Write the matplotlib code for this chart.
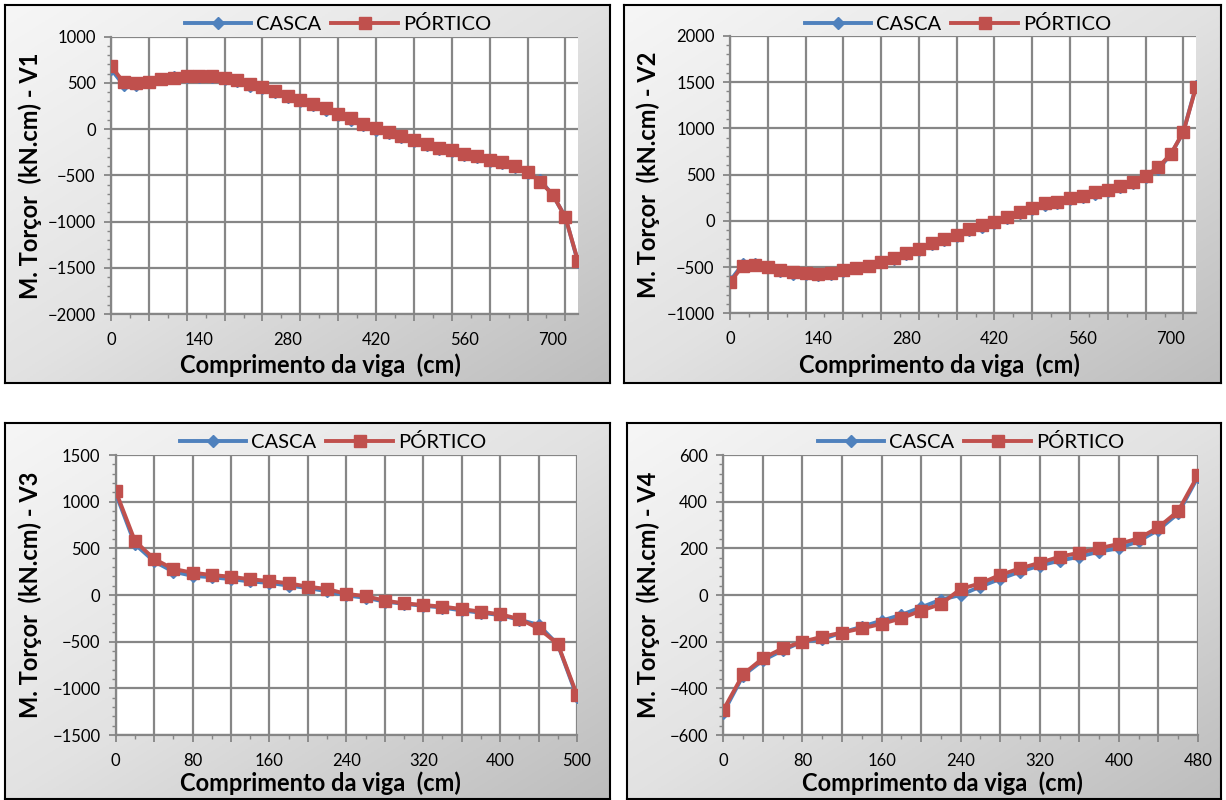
import numpy as np
import matplotlib.pyplot as plt
from matplotlib.colors import LinearSegmentedColormap
from matplotlib.ticker import MultipleLocator, NullFormatter

plt.rcParams['font.family'] = ['Lato', 'DejaVu Sans']

# category labels (cm) and torsion moments (kN.cm)
x_v1 = list(range(0, 760, 20))
casca_v1 = [650, 477, 478, 505, 545, 560, 562, 565, 562, 540, 520, 472, 447, 402, 348, 302, 258, 212, 150, 103,
            45, -4, -40, -84, -128, -175, -210, -238, -278, -300, -343, -365, -410, -470, -552, -712, -950, -1440]
portico_v1 = [683, 507, 496, 513, 539, 550, 575, 575, 578, 550, 531, 488, 459, 416, 362, 315, 272, 225, 163, 117,
              55, 9, -28, -74, -118, -165, -201, -226, -269, -291, -334, -356, -399, -460, -569, -709, -954, -1427]

x_v2 = list(range(0, 760, 20))
casca_v2 = [-650, -470, -470, -500, -540, -570, -580, -582, -575, -545, -515, -490, -440, -410, -360, -312, -255, -212,
            -162, -100, -62, -25, 35, 85, 125, 175, 198, 234, 262, 295, 323, 365, 405, 476, 560, 718, 962, 1460]
portico_v2 = [-665, -488, -480, -502, -532, -557, -567, -578, -561, -532, -507, -485, -442, -399, -351, -308, -243,
              -200, -153, -91, -50, -16, 45, 99, 136, 190, 207, 244, 272, 309, 334, 377, 417, 489, 579, 723, 965, 1445]

x_v3 = list(range(0, 420, 20)) + [425, 450, 475, 500]
casca_v3 = [1090, 545, 360, 250, 205, 190, 170, 145, 130, 100, 75, 40, -5, -30, -70, -95, -115, -135, -165, -190,
            -215, -265, -320, -530, -1090]
portico_v3 = [1114, 579, 386, 279, 239, 214, 196, 168, 150, 125, 89, 64, 11, -11, -61, -89, -107, -125, -150, -179,
              -207, -257, -357, -525, -1071]

x_v4 = list(range(0, 500, 20))
casca_v4 = [-505, -345, -280, -237, -200, -190, -161, -136, -110, -85, -53, -20, 0, 36, 69, 100, 126, 147, 164, 186,
            200, 231, 279, 350, 507]
portico_v4 = [-493, -340, -271, -229, -200, -179, -161, -143, -124, -100, -67, -39, 26, 50, 86, 114, 138, 164, 181,
              200, 219, 243, 290, 360, 514]

W, H = 1226, 800
fig = plt.figure(figsize=(12.26, 8), dpi=100)


def box(l, t, r, b):
    return [l / W, 1 - b / H, (r - l) / W, (b - t) / H]


grad = np.add.outer(np.linspace(0, 1, 200), np.linspace(0, 1, 200)) / 2
bgmap = LinearSegmentedColormap.from_list('bg', ['#f6f6f6', '#e2e2e2', '#bdbdbd'])


def panel(frame, area, cats, casca, portico, ylim, ystep, gstep, lstep, name, xlab_pos, ylab_x, leg_pos):
    bg = fig.add_axes(box(*frame), zorder=0)
    bg.imshow(grad, cmap=bgmap, extent=[0, 1, 0, 1], aspect='auto', origin='upper')
    bg.set_xticks([])
    bg.set_yticks([])
    for s in bg.spines.values():
        s.set_color('black')
        s.set_linewidth(1.5)

    ax = fig.add_axes(box(*area), zorder=1)
    ax.set_facecolor('white')
    pos = np.arange(len(cats))
    ax.plot(pos, casca, color='#4F81BD', lw=2.8, marker='D', ms=6.5, label='CASCA', zorder=3)
    ax.plot(pos, portico, color='#C0504D', lw=2.8, marker='s', ms=8.5, label='PÓRTICO', zorder=4)
    ax.set_xlim(0, len(cats) - 1)
    ax.set_ylim(*ylim)
    ax.yaxis.set_major_locator(MultipleLocator(ystep))
    ax.yaxis.set_minor_locator(MultipleLocator(ystep / 5))
    ax.xaxis.set_major_locator(MultipleLocator(gstep))
    ax.xaxis.set_minor_locator(MultipleLocator(gstep / 2))
    ax.xaxis.set_major_formatter(NullFormatter())
    ax.grid(True, which='major', color='#868686', lw=1.6)
    ax.set_axisbelow(True)
    for s in ax.spines.values():
        s.set_color('#868686')
        s.set_linewidth(1.6)
    ax.spines['top'].set_visible(False)
    ax.spines['right'].set_visible(False)
    ax.tick_params(which='major', color='#868686', length=5, width=1.3, labelsize=12, pad=6)
    ax.tick_params(which='minor', color='#868686', length=3, width=1.0)

    # category labels below the axis, as in a spreadsheet line chart
    ytxt = 1 - (area[3] + 26) / H
    for i in range(0, len(cats), lstep):
        xf = ax.transData.transform((i, 0))[0] / fig.dpi / fig.get_figwidth()
        fig.text(xf, ytxt, str(cats[i]), ha='center', va='center', fontsize=12)
    fig.text(xlab_pos[0] / W, 1 - xlab_pos[1] / H, 'Comprimento da viga  (cm)', ha='center', va='center',
             fontsize=17, fontweight='bold')
    fig.text(ylab_x / W, 1 - (area[1] + area[3]) / 2 / H, 'M. Torçor  (kN.cm) - ' + name, ha='center',
             va='center', rotation=90, fontsize=17, fontweight='bold')
    ax.legend(loc='center', bbox_to_anchor=(leg_pos[0] / W, 1 - leg_pos[1] / H), bbox_transform=fig.transFigure,
              ncol=2, frameon=False, fontsize=14.5, handlelength=3.3, columnspacing=0.5, handletextpad=0.25,
              borderaxespad=0, borderpad=0)
    return ax


panel((5, 5, 610, 383), (111, 36.7, 578, 314), x_v1, casca_v1, portico_v1, (-2000, 1000), 500, 3, 7, 'V1',
      (320, 365), 30, (338, 24))
panel((624, 5, 1221, 383), (730, 36, 1196, 313.3), x_v2, casca_v2, portico_v2, (-1000, 2000), 500, 3, 7, 'V2',
      (939, 365), 648, (958, 24))
panel((5, 423, 610, 799), (115.7, 455, 577, 735), x_v3, casca_v3, portico_v3, (-1500, 1500), 500, 2, 4, 'V3',
      (320, 783), 30, (333, 442))
panel((627, 423, 1221, 799), (723.3, 455, 1198, 735), x_v4, casca_v4, portico_v4, (-600, 600), 200, 2, 4, 'V4',
      (942, 783), 648, (971, 442))

fig.savefig('out.png', dpi=100)
